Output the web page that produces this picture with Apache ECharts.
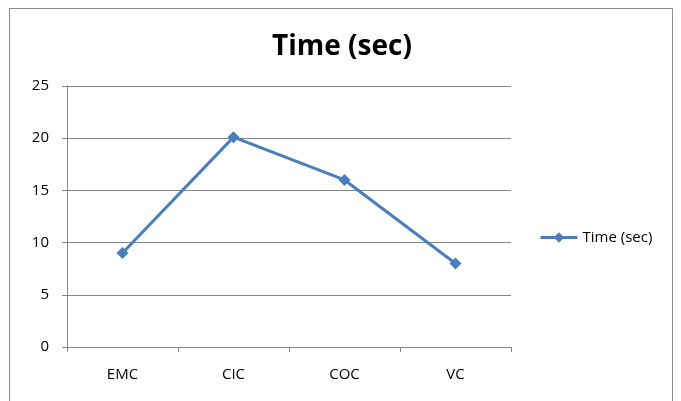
<!DOCTYPE html>
<html><head><meta charset="utf-8">
<script src="https://cdn.jsdelivr.net/npm/echarts@6/dist/echarts.min.js"></script>
<style>html,body{margin:0;padding:0;background:#fff}#c{width:681px;height:401px}</style>
</head><body><div id="c"></div>
<script>
const categories = ['EMC', 'CIC', 'COC', 'VC'];
const timeValues = [9, 20.1, 16, 8];
const yTicks = [0, 5, 10, 15, 20, 25];
const seriesName = 'Time (sec)';
const titleText = 'Time (sec)';

const chart = echarts.init(document.getElementById('c'), null, {renderer: 'canvas'});
const font = 'Open Sans, Liberation Sans, sans-serif';
chart.setOption({
  animation: false,
  backgroundColor: '#fff',
  graphic: [{type: 'rect', shape: {x: 9.5, y: 8.5, width: 663, height: 420}, style: {fill: 'none', stroke: '#8c8c8c', lineWidth: 1}, z: -1}],
  title: {text: titleText, top: 33, left: 272, padding: 0,
    textStyle: {fontFamily: font, fontSize: 28, fontWeight: 'bold', color: '#000'}},
  legend: {left: 539, top: 230, padding: 0, itemWidth: 37, itemHeight: 13, itemGap: 4,
    lineStyle: {width: 3},
    itemStyle: {color: '#4a7ebb'},
    textStyle: {fontFamily: font, fontSize: 15, color: '#000'}, data: [seriesName]},
  grid: {left: 67, right: 170, top: 86, bottom: 54},
  xAxis: {type: 'category', data: categories, boundaryGap: true,
    axisLine: {lineStyle: {color: '#868686', width: 1}},
    axisTick: {show: true, length: 5, lineStyle: {color: '#868686'}},
    axisLabel: {fontFamily: font, fontSize: 15, color: '#000', margin: 20}},
  yAxis: {type: 'value', min: 0, max: 25, interval: 5,
    axisLine: {show: true, lineStyle: {color: '#868686'}},
    axisTick: {show: true, length: 5, lineStyle: {color: '#868686'}},
    splitLine: {lineStyle: {color: '#868686', width: 1}},
    axisLabel: {fontFamily: font, fontSize: 15, color: '#000', margin: 18,
      formatter: v => yTicks.includes(v) ? String(v) : ''}},
  series: [{name: seriesName, type: 'line', data: timeValues, symbol: 'diamond', symbolSize: 12,
    lineStyle: {color: '#4a7ebb', width: 3}, itemStyle: {color: '#4a7ebb'}}]
});
</script></body></html>
